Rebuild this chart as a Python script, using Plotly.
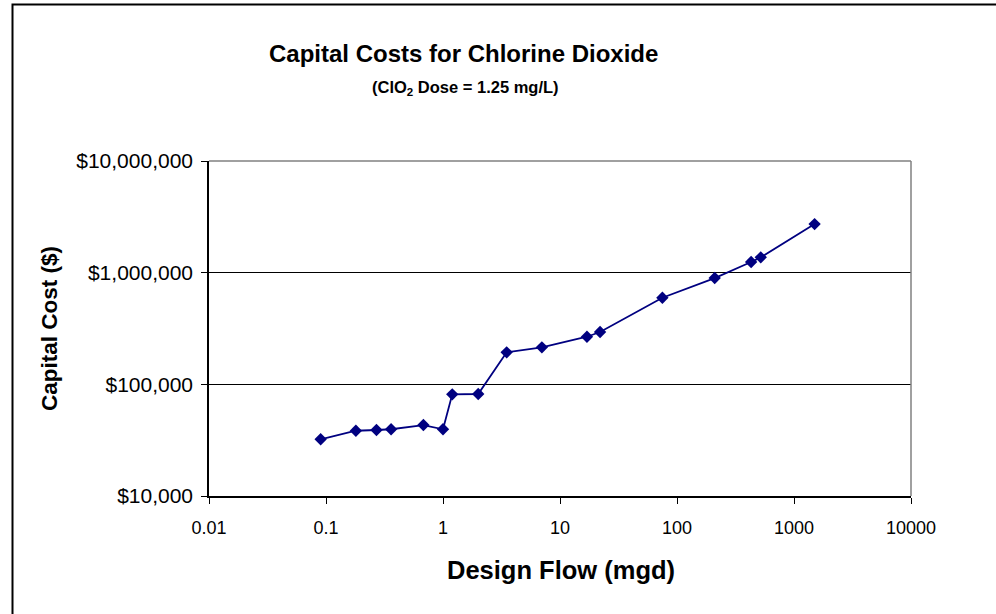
import plotly.graph_objects as go

# Data
design_flow_mgd = [0.09, 0.18, 0.27, 0.36, 0.68, 1.0, 1.2, 2.0, 3.5, 7.0, 17, 22, 75, 210, 430, 520, 1500]
capital_cost = [32200, 38400, 39000, 39600, 43200, 39600, 81300, 81900, 193500, 214400,
                266800, 294000, 596000, 895000, 1245000, 1371000, 2722000]

x_tickvals = [0.01, 0.1, 1, 10, 100, 1000, 10000]
x_ticktext = ["0.01", "0.1", "1", "10", "100", "1000", "10000"]
y_tickvals = [1e4, 1e5, 1e6, 1e7]
y_ticktext = ["$10,000", "$100,000", "$1,000,000", "$10,000,000"]

title_text = "Capital Costs for Chlorine Dioxide"
subtitle_text = "(ClO<sub>2</sub> Dose = 1.25 mg/L)"
x_title = "Design Flow (mgd)"
y_title = "Capital Cost ($)"

FONT = "Liberation Sans, Arial, sans-serif"
W, H = 996, 614
L, R, T, B = 209, 911, 161, 496
pw, ph = R - L, B - T

def px(x):
    return (x - L) / pw

def py(y):
    return (B - y) / ph

fig = go.Figure()
fig.add_trace(go.Scatter(
    x=design_flow_mgd, y=capital_cost, mode="lines+markers",
    line=dict(color="#000080", width=1.8),
    marker=dict(symbol="diamond", size=9.5, color="#000080"),
    showlegend=False, hoverinfo="x+y",
))

fig.update_layout(
    width=W, height=H,
    margin=dict(l=L, r=W - R, t=T, b=H - B, pad=0),
    paper_bgcolor="white", plot_bgcolor="white",
    font=dict(family=FONT, color="black"),
    xaxis=dict(type="log", range=[-2, 4], tickvals=x_tickvals, ticktext=x_ticktext,
               showgrid=False, zeroline=False, showline=True, linecolor="black", linewidth=1.5,
               ticks="outside", ticklen=6, tickcolor="black", tickwidth=1,
               ticklabelstandoff=9,
               tickfont=dict(size=18, family=FONT)),
    yaxis=dict(type="log", range=[4, 7], tickvals=y_tickvals, ticktext=y_ticktext,
               showgrid=True, gridcolor="black", gridwidth=1, zeroline=False,
               showline=True, linecolor="black", linewidth=1.5,
               ticks="outside", ticklen=6, tickcolor="black", tickwidth=1,
               ticklabelstandoff=4,
               tickfont=dict(size=21, family=FONT)),
    shapes=[
        # plot area gray border (top and right)
        dict(type="line", xref="paper", yref="paper", x0=0, x1=1, y0=1, y1=1,
             line=dict(color="#808080", width=1.5)),
        dict(type="line", xref="paper", yref="paper", x0=1, x1=1, y0=0, y1=1,
             line=dict(color="#808080", width=1.5)),
        # outer chart frame
        dict(type="rect", xref="paper", yref="paper",
             x0=px(12.5), x1=px(1100), y0=py(700), y1=py(4.5),
             line=dict(color="black", width=2), layer="above"),
    ],
    annotations=[
        dict(text="<b>" + title_text + "</b>", x=px(463), y=py(54), xref="paper", yref="paper",
             showarrow=False, xanchor="center", yanchor="middle", font=dict(size=24, family=FONT)),
        dict(text="<b>" + subtitle_text + "</b>", x=px(465), y=py(88), xref="paper", yref="paper",
             showarrow=False, xanchor="center", yanchor="middle", font=dict(size=16.5, family=FONT)),
        dict(text="<b>" + x_title + "</b>", x=px(561), y=py(570), xref="paper", yref="paper",
             showarrow=False, xanchor="center", yanchor="middle", font=dict(size=25.5, family=FONT)),
        dict(text="<b>" + y_title + "</b>", x=px(49), y=py(329), xref="paper", yref="paper",
             showarrow=False, xanchor="center", yanchor="middle", textangle=-90,
             font=dict(size=22.5, family=FONT)),
    ],
)

fig.write_html("out.html", config={"displayModeBar": False},
               post_script="document.body.style.margin='0px';")
